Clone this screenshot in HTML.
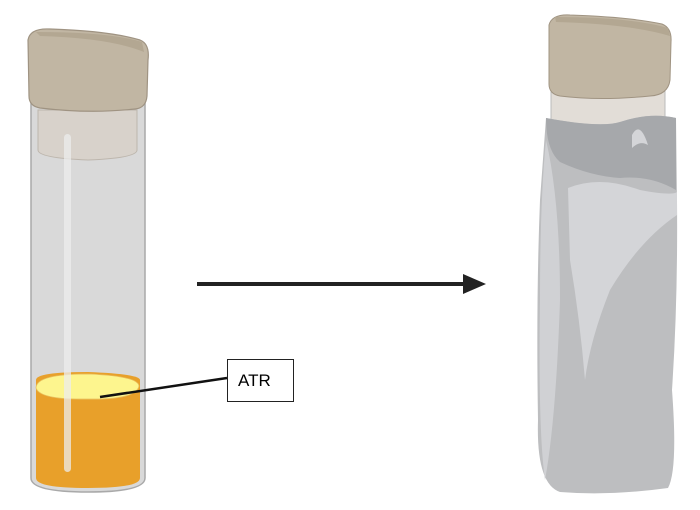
<!DOCTYPE html>
<html><head><style>body{margin:0;background:#fff}svg{display:block}</style></head><body>
<svg width="700" height="510" viewBox="0 0 700 510" xmlns="http://www.w3.org/2000/svg">
<!-- left tube -->
<path d="M31 96 L31 478 Q31 492 88 492 Q145 492 145 478 L145 96 Z" fill="#d9d9d9" stroke="#a9a9a9" stroke-width="1.5"/>
<path d="M36 380 Q36 372 88 372 Q140 374 140 380 L140 478 Q140 488 88 488 Q36 488 36 478 Z" fill="#e8a02a"/>
<path d="M36 388 Q36 374 88 374 Q138 376 139 386 Q136 400 88 399 Q40 400 36 388 Z" fill="#fdf58e" stroke="#e9c060" stroke-width="0.8"/>
<path d="M38 110 L137 110 L137 150 Q137 158 88 160 Q38 158 38 150 Z" fill="#d8d2cb" stroke="#bdb6ad" stroke-width="1"/>
<rect x="64" y="134" width="7" height="338" rx="3.5" fill="#ececec" opacity="0.75"/>
<path d="M28 40 Q30 28 50 29 Q110 31 140 40 Q150 44 148 60 L147 96 Q146 108 135 109 Q90 114 40 108 Q29 106 29 96 Z" fill="#c1b6a3" stroke="#9f9382" stroke-width="1.2"/>
<path d="M36 32 Q110 32 142 42 L144 52 Q110 38 40 36 Z" fill="#b3a792"/>
<!-- label -->
<line x1="100" y1="397" x2="227" y2="378" stroke="#111" stroke-width="2.5"/>
<rect x="227.5" y="359.5" width="66" height="42" fill="#fff" stroke="#222" stroke-width="1"/>
<text x="238" y="386" font-family="Liberation Sans, sans-serif" font-size="17" fill="#000">ATR</text>
<!-- arrow -->
<line x1="197" y1="284" x2="466" y2="284" stroke="#222" stroke-width="4"/>
<polygon points="463,274 486,284 463,294" fill="#222"/>
<!-- right tube -->
<rect x="551" y="80" width="114" height="60" fill="#e2ddd7" stroke="#bbb" stroke-width="1"/>
<path d="M549 25 Q552 14 570 15 Q630 17 662 24 Q672 28 671 42 L670 80 Q668 95 650 96 Q600 101 560 96 Q549 94 549 84 Z" fill="#c1b6a3" stroke="#a09482" stroke-width="1"/>
<path d="M555 17 Q630 17 668 28 L670 36 Q630 24 556 22 Z" fill="#b3a792"/>
<path d="M546 118 Q600 128 620 122 Q650 112 676 118 L677 200 Q678 300 672 390 Q678 470 668 488 Q610 496 560 492 Q536 484 538 420 Q536 300 540 200 Z" fill="#bdbec0"/>
<path d="M546 118 Q600 128 620 122 Q650 112 676 118 L676 190 Q650 175 620 178 Q590 176 560 162 Q546 150 546 118 Z" fill="#a6a8ab"/>
<path d="M568 188 Q600 175 640 190 Q672 196 677 192 L677 215 Q640 240 610 290 Q590 340 585 380 Q580 320 570 260 Z" fill="#d4d5d8"/>
<path d="M546 140 Q560 200 560 300 Q556 420 545 480 Q538 430 540 300 Q540 200 546 140 Z" fill="#d0d1d4"/>
<path d="M632 135 Q640 120 648 145 Q640 140 632 148 Z" fill="#d4d5d8"/>
</svg>
</body></html>
